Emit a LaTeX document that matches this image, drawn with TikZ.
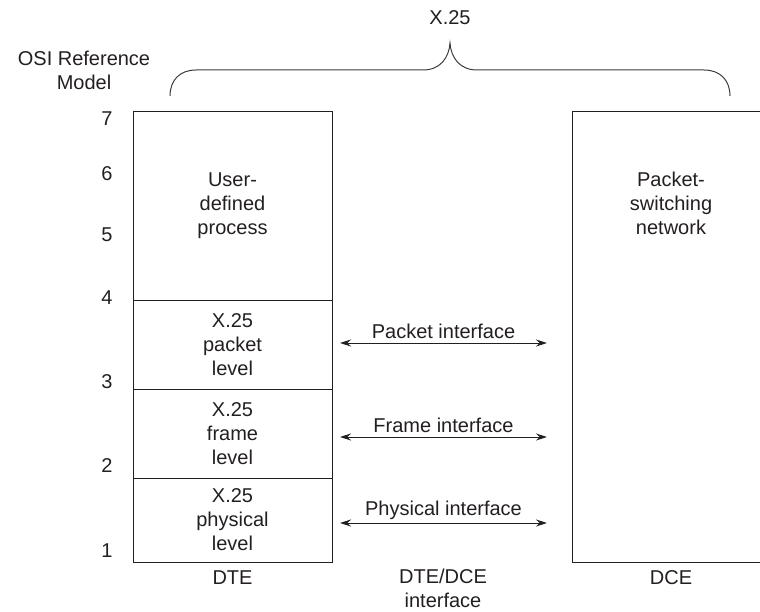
\documentclass[tikz,border=0pt]{standalone}
\usepackage{fontspec}
\setmainfont{Liberation Sans}
\usepackage{xcolor}
\usepackage{tikz}
\usetikzlibrary{arrows.meta,positioning}
\definecolor{inkgray}{RGB}{35,31,32}
\definecolor{bracegray}{RGB}{60,60,60}

\begin{document}
\begin{tikzpicture}[x=1pt,y=-1pt,every node/.style={font=\fontsize{20}{24}\selectfont,text=inkgray,align=center},
  layer/.style={draw=inkgray,line width=1pt,minimum width=199pt,inner sep=0pt},
  iface/.style={{Stealth[length=11pt,width=7pt]}-{Stealth[length=11pt,width=7pt]},line width=1pt,draw=inkgray}]
\useasboundingbox (0,0) rectangle (760,612);
% osi layer numbers
\node (osi) at (84,70) {OSI Reference\\Model};
\foreach \num/\ypos in {7/119,6/174,5/235,4/298,3/382,2/466,1/551}
  \node (n\num) at (107,\ypos) {\num};
% DTE stack
\node[layer,minimum height=188pt] (user) at (232.5,206) {User-\\defined\\process};
\node[layer,minimum height=89pt] (pkt) at (232.5,344.5) {X.25\\packet\\level};
\node[layer,minimum height=89pt] (frm) at (232.5,433.5) {X.25\\frame\\level};
\node[layer,minimum height=84pt] (phy) at (232.5,520) {X.25\\physical\\level};
\node (dte) at (232.5,578) {DTE};
% DCE side
\node[layer,minimum width=198pt,minimum height=450pt] (dce) at (671,337) {};
\node (psn) at (671,203) {Packet-\\switching\\network};
\node (dcelbl) at (671,578) {DCE};
\node (ifc) at (443,588) {DTE/DCE\\interface};
% interfaces
\coordinate (pktl) at (340,343); \coordinate (pktr) at (547,343);
\coordinate (frml) at (340,437); \coordinate (frmr) at (547,437);
\coordinate (phyl) at (340,523); \coordinate (phyr) at (547,523);
\draw[iface] (pktl) -- (pktr) node[midway,above=0pt]{Packet interface};
\draw[iface] (frml) -- (frmr) node[midway,above=0pt]{Frame interface};
\draw[iface] (phyl) -- (phyr) node[midway,above=0pt]{Physical interface};
% brace
\node (x25) at (450,18) {X.25};
\coordinate (tip) at (450,43);
\draw[bracegray,line width=1pt] (170,96) .. controls (170,80) and (180,70) .. (196,70) -- (423,70)
  .. controls (440,70) and (449,58) .. (tip) .. controls (451,58) and (460,70) .. (477,70)
  -- (704,70) .. controls (720,70) and (730,80) .. (730,96);
\end{tikzpicture}
\end{document}
